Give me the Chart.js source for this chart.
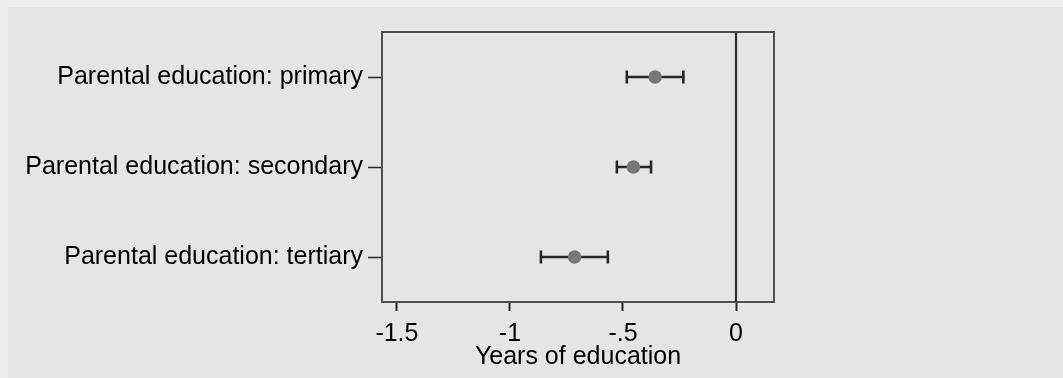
<!DOCTYPE html>
<html>
<head>
<meta charset="utf-8">
<script src="https://cdn.jsdelivr.net/npm/chart.js@4/dist/chart.umd.min.js"></script>
<style>
  html, body { margin: 0; padding: 0; background: #e5e5e5; }
  #wrap { width: 1063px; height: 378px; }
</style>
</head>
<body>
<div id="wrap"><canvas id="c" width="1063" height="378"></canvas></div>
<script>
// Coefficients with 95% confidence intervals (years of education)
const categories = [
  'Parental education: primary',
  'Parental education: secondary',
  'Parental education: tertiary'
];
const estimates = [-0.358, -0.454, -0.714];
const lowerCI = [-0.483, -0.527, -0.863];
const upperCI = [-0.233, -0.376, -0.567];
const xTicks = [-1.5, -1, -0.5, 0];
const xMin = -1.566;
const xMax = 0.168;

const FONT = 'Liberation Sans, Arial, Helvetica, sans-serif';
const FRAME = '#505050';
const INK = '#262626';

const points = estimates.map((v, i) => ({ x: v, y: categories[i] }));

function stataNum(v) {
  if (v === 0) return '0';
  let s = String(Math.abs(v)).replace(/^0\./, '.');
  return (v < 0 ? '-' : '') + s;
}

// Page backdrop, frame, zero reference line and CI whiskers
const decor = {
  id: 'decor',
  beforeDraw(chart) {
    const ctx = chart.ctx;
    ctx.save();
    ctx.fillStyle = '#ededed';
    ctx.fillRect(0, 0, chart.width, chart.height);
    ctx.fillStyle = '#e5e5e5';
    ctx.fillRect(8, 7, chart.width - 8, chart.height - 7);
    ctx.restore();
  },
  beforeDatasetsDraw(chart) {
    const { ctx, chartArea: a, scales: { x, y } } = chart;
    ctx.save();
    // top and right edges of the plot box
    ctx.strokeStyle = FRAME;
    ctx.lineWidth = 2;
    ctx.beginPath();
    ctx.moveTo(a.left, a.top);
    ctx.lineTo(a.right, a.top);
    ctx.lineTo(a.right, a.bottom);
    ctx.stroke();
    // reference line at zero
    const x0 = x.getPixelForValue(0);
    ctx.strokeStyle = '#303030';
    ctx.lineWidth = 2.2;
    ctx.beginPath();
    ctx.moveTo(x0, a.top);
    ctx.lineTo(x0, a.bottom);
    ctx.stroke();
    // confidence interval whiskers
    ctx.strokeStyle = INK;
    ctx.lineWidth = 2.6;
    const cap = 6.5;
    categories.forEach((c, i) => {
      const py = y.getPixelForValue(i);
      const xl = x.getPixelForValue(lowerCI[i]);
      const xu = x.getPixelForValue(upperCI[i]);
      ctx.beginPath();
      ctx.moveTo(xl, py);
      ctx.lineTo(xu, py);
      ctx.moveTo(xl, py - cap);
      ctx.lineTo(xl, py + cap);
      ctx.moveTo(xu, py - cap);
      ctx.lineTo(xu, py + cap);
      ctx.stroke();
    });
    ctx.restore();
  }
};

new Chart(document.getElementById('c'), {
  type: 'scatter',
  data: {
    datasets: [{
      data: points,
      pointRadius: 6.8,
      pointHoverRadius: 6.8,
      pointBackgroundColor: '#777777',
      pointBorderColor: '#777777',
      pointBorderWidth: 0
    }]
  },
  plugins: [decor],
  options: {
    responsive: false,
    animation: false,
    events: [],
    layout: { padding: { top: 32, right: 289, left: 0, bottom: 0 } },
    plugins: {
      legend: { display: false },
      tooltip: { enabled: false }
    },
    scales: {
      x: {
        type: 'linear',
        min: xMin,
        max: xMax,
        afterBuildTicks: (s) => { s.ticks = xTicks.map(v => ({ value: v })); },
        afterFit: (s) => { s.height = 76; },
        ticks: {
          callback: (v) => stataNum(v),
          color: '#000000',
          font: { family: FONT, size: 25 },
          padding: 8,
          maxRotation: 0,
          autoSkip: false
        },
        grid: {
          drawOnChartArea: false,
          drawTicks: true,
          tickLength: 9,
          tickWidth: 2,
          tickColor: INK,
          color: INK
        },
        border: { display: true, color: FRAME, width: 2 },
        title: {
          display: true,
          text: 'Years of education',
          color: '#000000',
          font: { family: FONT, size: 25 },
          padding: { top: 0, bottom: 6 }
        }
      },
      y: {
        type: 'category',
        labels: categories,
        offset: true,
        afterFit: (s) => { s.width = 382; },
        ticks: {
          color: '#000000',
          font: { family: FONT, size: 25 },
          padding: 5,
          autoSkip: false
        },
        grid: {
          offset: false,
          drawOnChartArea: false,
          drawTicks: true,
          tickLength: 14,
          tickWidth: 1.5,
          tickColor: INK,
          color: INK
        },
        border: { display: true, color: FRAME, width: 2 }
      }
    }
  }
});
</script>
</body>
</html>
